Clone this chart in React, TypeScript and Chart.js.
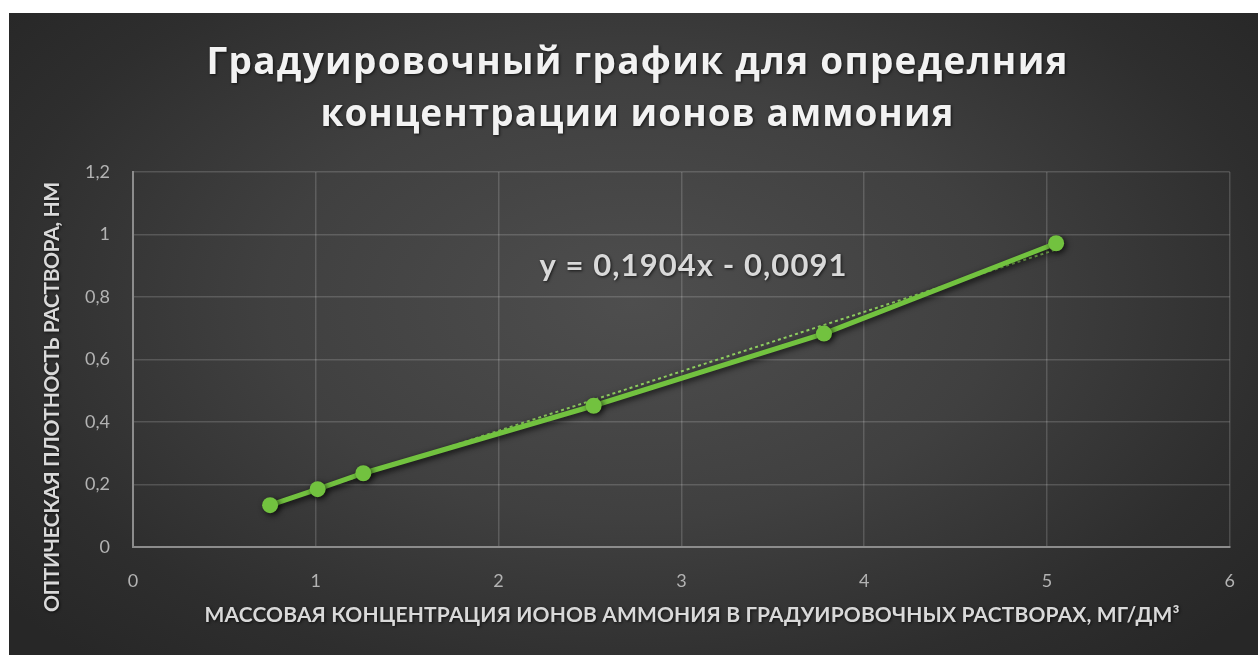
import React, { useEffect, useRef } from "react";
import { Chart, registerables } from "chart.js";

Chart.register(...registerables);

const concentrations = [0.75, 1.01, 1.26, 2.52, 3.78, 5.05];
const opticalDensity = [0.134, 0.185, 0.236, 0.452, 0.683, 0.972];
const trendX = [0.75, 5.05];
const trendY = [0.134, 0.952];
const yTickLabels = ["0", "0,2", "0,4", "0,6", "0,8", "1", "1,2"];
const xTickLabels = ["0", "1", "2", "3", "4", "5", "6"];
const titleLines = ["Градуировочный график для определния", "концентрации ионов аммония"];
const xAxisTitle = "МАССОВАЯ КОНЦЕНТРАЦИЯ ИОНОВ АММОНИЯ В ГРАДУИРОВОЧНЫХ РАСТВОРАХ, МГ/ДМ³";
const yAxisTitle = "ОПТИЧЕСКАЯ ПЛОТНОСТЬ РАСТВОРА, НМ";
const equation = "y = 0,1904x - 0,0091";

const GREEN = "#72c23f";

function drawSpaced(ctx: CanvasRenderingContext2D, text: string, cx: number, baseline: number, font: string, targetW: number) {
  ctx.font = font;
  (ctx as any).letterSpacing = "0px";
  const w = ctx.measureText(text).width;
  const n = Array.from(text).length;
  const sp = n > 1 ? (targetW - w) / (n - 1) : 0;
  (ctx as any).letterSpacing = sp + "px";
  ctx.textAlign = "left";
  ctx.textBaseline = "alphabetic";
  ctx.fillText(text, cx - targetW / 2, baseline);
  (ctx as any).letterSpacing = "0px";
}

const textPlugin = {
  id: "texts",
  beforeDatasetsDraw(chart: any) {
    const ctx = chart.ctx;
    ctx.save();
    ctx.shadowColor = "rgba(0,0,0,0.75)";
    ctx.shadowBlur = 6;
    ctx.shadowOffsetX = 2;
    ctx.shadowOffsetY = 2;
  },
  afterDatasetsDraw(chart: any) {
    chart.ctx.restore();
  },
  afterDraw(chart: any) {
    const ctx = chart.ctx as CanvasRenderingContext2D;
    ctx.save();
    ctx.shadowColor = "rgba(0,0,0,0.7)";
    ctx.shadowBlur = 3;
    ctx.shadowOffsetX = 1;
    ctx.shadowOffsetY = 1;
    ctx.fillStyle = "#f2f2f2";
    drawSpaced(ctx, titleLines[0], 628, 61, "bold 37px 'Open Sans'", 861);
    drawSpaced(ctx, titleLines[1], 628, 113, "bold 37px 'Open Sans'", 633);
    ctx.fillStyle = "#d9d9d9";
    drawSpaced(ctx, equation, 684, 263, "bold 31px Lato", 307);
    drawSpaced(ctx, xAxisTitle, 683, 609, "bold 21px Lato", 975);
    ctx.save();
    ctx.translate(50, 384);
    ctx.rotate(-Math.PI / 2);
    drawSpaced(ctx, yAxisTitle, 0, 0, "bold 21px Lato", 430);
    ctx.restore();
    ctx.restore();
  },
};

export default function App() {
  const ref = useRef<HTMLCanvasElement>(null);
  useEffect(() => {
    if (!ref.current) return;
    const chart = new Chart(ref.current, {
      type: "scatter",
      data: {
        datasets: [
          {
            label: "data",
            data: concentrations.map((x, i) => ({ x, y: opticalDensity[i] })),
            showLine: true,
            borderColor: GREEN,
            backgroundColor: GREEN,
            borderWidth: 5,
            pointRadius: 8,
            pointBorderWidth: 0,
            pointBackgroundColor: GREEN,
          },
          {
            label: "trend",
            data: trendX.map((x, i) => ({ x, y: trendY[i] })),
            showLine: true,
            borderColor: "#8fd060",
            borderWidth: 2,
            borderDash: [3, 3],
            pointRadius: 0,
          },
        ],
      },
      options: {
        responsive: true,
        maintainAspectRatio: false,
        animation: false,
        layout: { padding: { left: 0, top: 159, right: 23, bottom: 0 } },
        plugins: { legend: { display: false }, tooltip: { enabled: false }, title: { display: false } },
        scales: {
          x: {
            type: "linear",
            min: 0,
            max: 6,
            afterFit: (s: any) => { s.height = 108; },
            ticks: {
              stepSize: 1,
              padding: 23,
              color: "#b3b3b3",
              font: { family: "Lato", size: 18 },
              callback: (_v: any, i: number) => xTickLabels[i],
            },
            grid: { color: "rgba(255,255,255,0.16)", drawTicks: false, lineWidth: 1.5 },
            border: { color: "#8c8c8c", width: 2 },
          },
          y: {
            type: "linear",
            min: 0,
            max: 1.2,
            afterFit: (s: any) => { s.width = 124; },
            ticks: {
              stepSize: 0.2,
              padding: 23,
              color: "#b3b3b3",
              font: { family: "Lato", size: 18 },
              callback: (_v: any, i: number) => yTickLabels[i],
            },
            grid: { color: "rgba(255,255,255,0.16)", drawTicks: false, lineWidth: 1.5 },
            border: { color: "#8c8c8c", width: 2 },
          },
        },
      },
      plugins: [textPlugin],
    } as any);
    return () => chart.destroy();
  }, []);
  return (
    <div
      style={{
        position: "absolute",
        left: 9,
        top: 13,
        width: 1249,
        height: 642,
        background: "radial-gradient(ellipse 65% 75% at 50% 45%, #4e4e4e 0%, #404040 45%, #2e2e2e 80%, #272727 100%)",
      }}
    >
      <canvas ref={ref} />
    </div>
  );
}
